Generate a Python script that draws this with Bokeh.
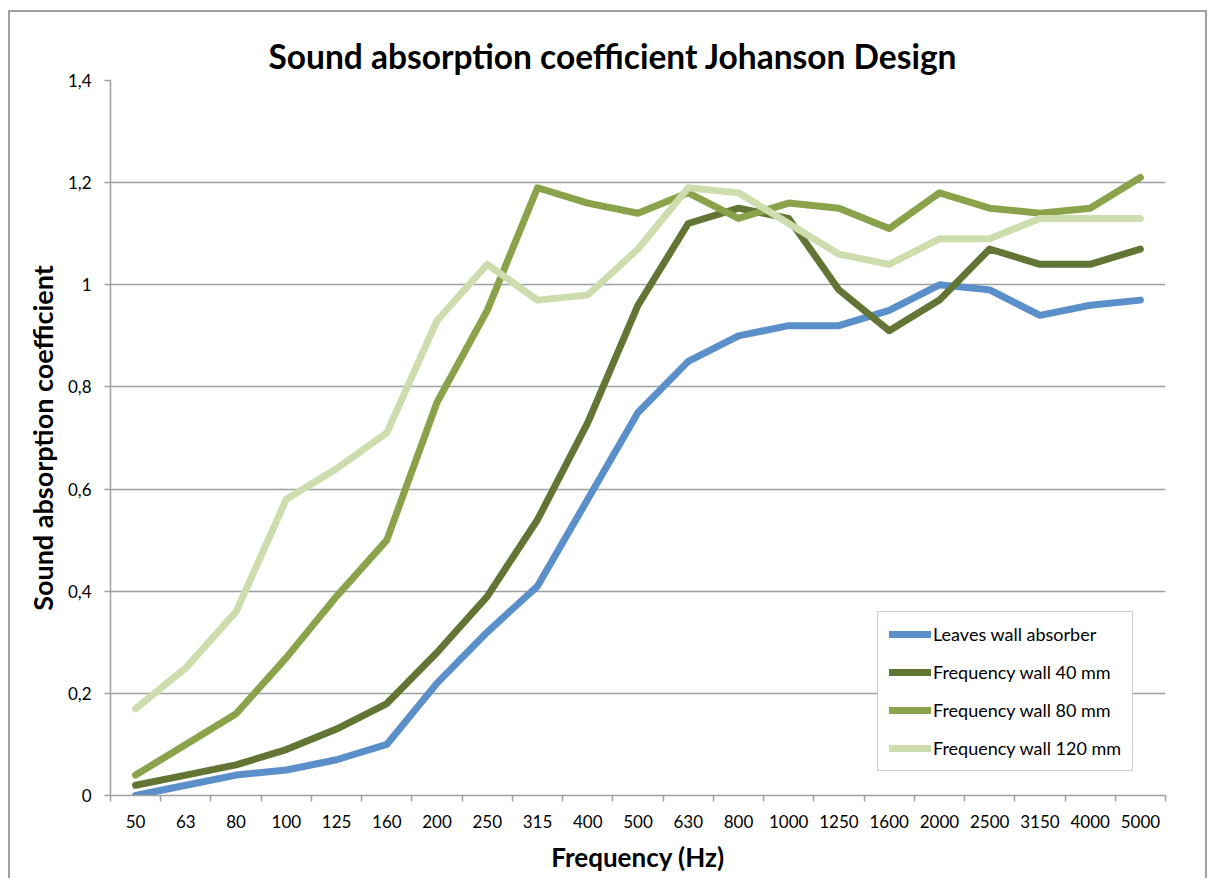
from bokeh.plotting import figure
from bokeh.models import FixedTicker, Legend, LegendItem, Range1d
from bokeh.embed import file_html
from bokeh.resources import INLINE

freq_labels = ["50", "63", "80", "100", "125", "160", "200", "250", "315", "400", "500",
               "630", "800", "1000", "1250", "1600", "2000", "2500", "3150", "4000", "5000"]

leaves = [0.00, 0.02, 0.04, 0.05, 0.07, 0.10, 0.22, 0.32, 0.41, 0.58, 0.75,
          0.85, 0.90, 0.92, 0.92, 0.95, 1.00, 0.99, 0.94, 0.96, 0.97]
wall_40 = [0.02, 0.04, 0.06, 0.09, 0.13, 0.18, 0.28, 0.39, 0.54, 0.73, 0.96,
           1.12, 1.15, 1.13, 0.99, 0.91, 0.97, 1.07, 1.04, 1.04, 1.07]
wall_80 = [0.04, 0.10, 0.16, 0.27, 0.39, 0.50, 0.77, 0.95, 1.19, 1.16, 1.14,
           1.18, 1.13, 1.16, 1.15, 1.11, 1.18, 1.15, 1.14, 1.15, 1.21]
wall_120 = [0.17, 0.25, 0.36, 0.58, 0.64, 0.71, 0.93, 1.04, 0.97, 0.98, 1.07,
            1.19, 1.18, 1.12, 1.06, 1.04, 1.09, 1.09, 1.13, 1.13, 1.13]

series_names = ["Leaves wall absorber", "Frequency wall 40 mm",
                "Frequency wall 80 mm", "Frequency wall 120 mm"]
series_values = [leaves, wall_40, wall_80, wall_120]
series_colors = ["#5B8FC9", "#627534", "#8AA24A", "#CEDDAD"]

y_ticks = [0, 0.2, 0.4, 0.6, 0.8, 1.0, 1.2, 1.4]
y_tick_labels = ["0", "0,2", "0,4", "0,6", "0,8", "1", "1,2", "1,4"]

GRAY = "#A0A0A0"
FONT = "Lato"

x = list(range(len(freq_labels)))

p = figure(width=1199, height=868, output_backend="svg", toolbar_location=None,
           x_range=Range1d(-0.5, len(freq_labels) - 0.5), y_range=Range1d(0, 1.4),
           min_border_left=100, min_border_right=44, min_border_top=68,
           min_border_bottom=85)
p.outline_line_color = None
p.background_fill_color = "white"
p.border_fill_color = "white"
p.styles = {"margin-left": "8px", "margin-top": "10px",
            "border-top": "2px solid #A0A0A0", "border-left": "2px solid #A0A0A0",
            "border-right": "2px solid #A0A0A0"}

p.title.text = "Sound absorption coefficient Johanson Design"
p.title.text_font = FONT
p.title.text_font_size = "33.5px"
p.title.text_font_style = "bold"
p.title.align = "left"
p.title.offset = 158
p.title.standoff = 9
p.title.text_color = "black"

# x axis
xa = p.xaxis[0]
xa.ticker = FixedTicker(ticks=x, minor_ticks=[i - 0.5 for i in range(len(freq_labels) + 1)])
xa.major_label_overrides = {i: lab for i, lab in enumerate(freq_labels)}
xa.major_tick_line_color = None
xa.major_tick_out = 6
xa.major_tick_in = 0
xa.minor_tick_out = 6
xa.minor_tick_in = 0
xa.minor_tick_line_color = GRAY
xa.minor_tick_line_width = 1.5
xa.axis_line_color = GRAY
xa.axis_line_width = 1.5
xa.major_label_text_font = FONT
xa.major_label_text_font_size = "17px"
xa.major_label_text_color = "black"
xa.major_label_standoff = 13
xa.axis_label = "Frequency (Hz)"
xa.axis_label_text_font = FONT
xa.axis_label_text_font_size = "26px"
xa.axis_label_text_font_style = "bold"
xa.axis_label_text_color = "black"
xa.axis_label_standoff = 10

# y axis
ya = p.yaxis[0]
ya.ticker = FixedTicker(ticks=y_ticks, minor_ticks=[])
ya.major_label_overrides = dict(zip(y_ticks, y_tick_labels))
ya.major_tick_out = 6
ya.major_tick_in = 0
ya.major_tick_line_color = GRAY
ya.major_tick_line_width = 1.5
ya.minor_tick_line_color = None
ya.axis_line_color = GRAY
ya.axis_line_width = 1.5
ya.major_label_text_font = FONT
ya.major_label_text_font_size = "17px"
ya.major_label_text_color = "black"
ya.major_label_standoff = 13
ya.axis_label = "Sound absorption coefficient"
ya.axis_label_text_font = FONT
ya.axis_label_text_font_size = "27px"
ya.axis_label_text_font_style = "bold"
ya.axis_label_text_color = "black"
ya.axis_label_standoff = 6

p.xgrid.visible = False
p.ygrid.grid_line_color = GRAY
p.ygrid.grid_line_width = 1.5

items = []
for name, vals, col in zip(series_names, series_values, series_colors):
    r = p.line(x, vals, line_color=col, line_width=7, line_cap="round", line_join="round")
    items.append(LegendItem(label=name, renderers=[r]))

legend = Legend(items=items, location=(767, 24))
legend.border_line_color = GRAY
legend.border_line_width = 1.5
legend.background_fill_color = "white"
legend.background_fill_alpha = 1.0
legend.padding = 11
legend.spacing = 16
legend.margin = 0
legend.label_height = 20
legend.glyph_height = 20
legend.glyph_width = 42
legend.label_standoff = 2
legend.label_text_font = FONT
legend.label_text_font_size = "18px"
legend.label_text_color = "black"
p.add_layout(legend)

with open("out.html", "w") as f:
    f.write(file_html(p, INLINE))
